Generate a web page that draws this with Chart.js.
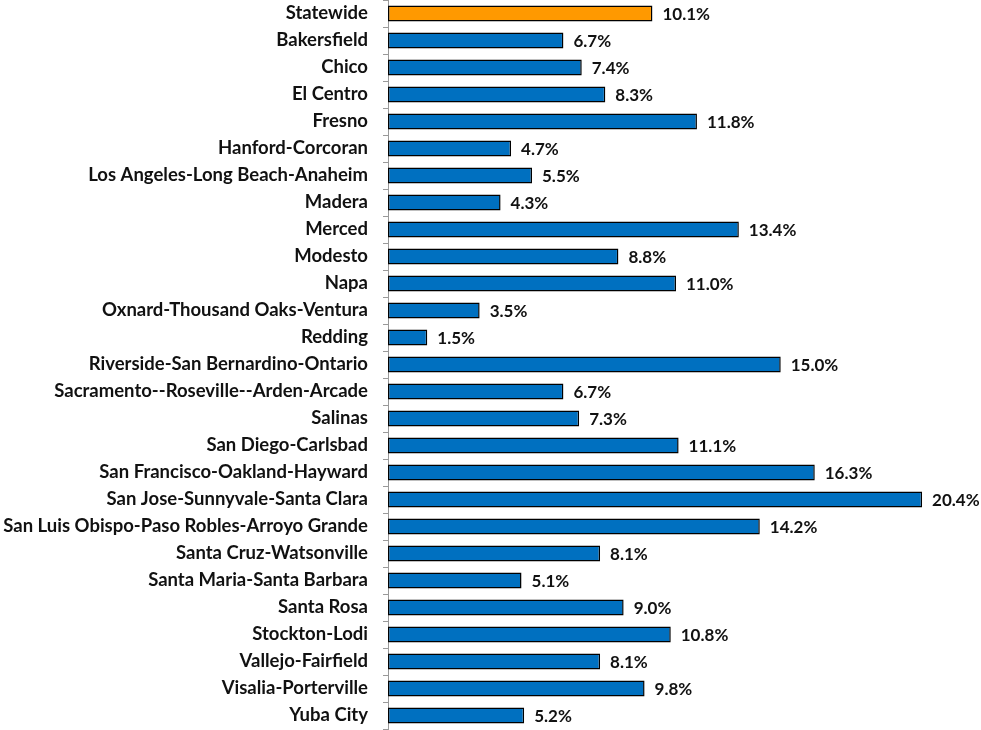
<!DOCTYPE html>
<html>
<head>
<meta charset="utf-8">
<script src="https://cdn.jsdelivr.net/npm/chart.js@4.4.0/dist/chart.umd.min.js"></script>
<style>
  html, body { margin: 0; padding: 0; background: #fff; }
  #wrap { width: 981px; height: 730px; position: relative; }
</style>
</head>
<body>
<div id="wrap"><canvas id="barChart"></canvas></div>
<script>
const areas = [
  'Statewide', 'Bakersfield', 'Chico', 'El Centro', 'Fresno', 'Hanford-Corcoran',
  'Los Angeles-Long Beach-Anaheim', 'Madera', 'Merced', 'Modesto', 'Napa',
  'Oxnard-Thousand Oaks-Ventura', 'Redding', 'Riverside-San Bernardino-Ontario',
  'Sacramento--Roseville--Arden-Arcade', 'Salinas', 'San Diego-Carlsbad',
  'San Francisco-Oakland-Hayward', 'San Jose-Sunnyvale-Santa Clara',
  'San Luis Obispo-Paso Robles-Arroyo Grande', 'Santa Cruz-Watsonville',
  'Santa Maria-Santa Barbara', 'Santa Rosa', 'Stockton-Lodi', 'Vallejo-Fairfield',
  'Visalia-Porterville', 'Yuba City'
];
const growth = [
  10.1, 6.7, 7.4, 8.3, 11.8, 4.7, 5.5, 4.3, 13.4, 8.8, 11.0, 3.5, 1.5, 15.0,
  6.7, 7.3, 11.1, 16.3, 20.4, 14.2, 8.1, 5.1, 9.0, 10.8, 8.1, 9.8, 5.2
];

const FONT = 'Lato, "Open Sans", sans-serif';

// etiquetas de valor à direita de cada barra
const valueLabels = {
  id: 'valueLabels',
  afterDatasetsDraw(chart) {
    const ctx = chart.ctx;
    const meta = chart.getDatasetMeta(0);
    ctx.save();
    ctx.font = 'bold 17px ' + FONT;
    ctx.fillStyle = '#111';
    ctx.textAlign = 'left';
    ctx.textBaseline = 'middle';
    meta.data.forEach((bar, i) => {
      ctx.fillText(growth[i].toFixed(1) + '%', bar.x + 10, bar.y + 1);
    });
    ctx.restore();
  }
};

new Chart(document.getElementById('barChart'), {
  type: 'bar',
  data: {
    labels: areas,
    datasets: [{
      data: growth,
      backgroundColor: areas.map((a, i) => i === 0 ? '#FF9900' : '#0070C0'),
      borderColor: '#000',
      borderWidth: 1.5,
      borderSkipped: false,
      barPercentage: 0.6,
      categoryPercentage: 1
    }]
  },
  options: {
    indexAxis: 'y',
    responsive: true,
    maintainAspectRatio: false,
    animation: false,
    layout: { padding: { top: 0, right: 17, bottom: 1, left: 0 } },
    plugins: { legend: { display: false }, tooltip: { enabled: false } },
    scales: {
      x: { display: false, min: 0, max: 22 },
      y: {
        afterFit: s => { s.width = 388; s.paddingTop = 0; s.paddingBottom = 0; },
        border: { display: true, color: '#999', width: 1 },
        grid: { drawOnChartArea: false, drawTicks: true, tickLength: 5, color: '#999' },
        ticks: { color: '#111', padding: 15, font: { family: FONT, size: 18.5, weight: 'bold' } }
      }
    }
  },
  plugins: [valueLabels]
});
</script>
</body>
</html>
